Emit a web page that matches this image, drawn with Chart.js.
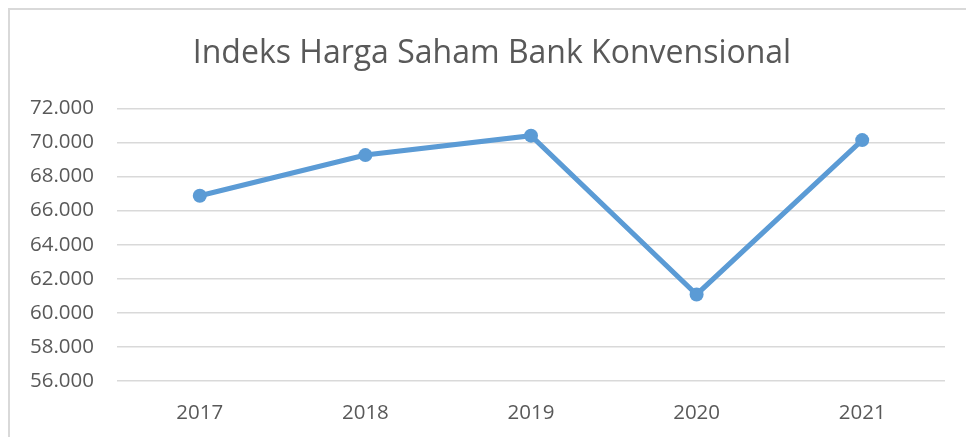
<!DOCTYPE html>
<html>
<head>
<meta charset="utf-8">
<script src="https://cdn.jsdelivr.net/npm/chart.js@4/dist/chart.umd.min.js"></script>
<style>
  html, body { margin: 0; padding: 0; background: #ffffff; overflow: hidden; }
  #frame { position: absolute; left: 8px; top: 8px; width: 980px; height: 450px;
           border-left: 2px solid #d9d9d9; border-top: 2px solid #d9d9d9; }
  #wrap { position: absolute; left: 0; top: 0; width: 966px; height: 437px; }
</style>
</head>
<body>
<div id="frame"></div>
<div id="wrap"><canvas id="c" width="966" height="437"></canvas></div>
<script>
const titleText = 'Indeks Harga Saham Bank Konvensional';
const categories = ['2017', '2018', '2019', '2020', '2021'];
const indexValues = [66870, 69260, 70400, 61080, 70140];
const yTicks = [56000, 58000, 60000, 62000, 64000, 66000, 68000, 70000, 72000];

const textColor = '#595959';
const fontFamily = '"Open Sans", "DejaVu Sans", sans-serif';

function fmt(v) {
  return String(v).replace(/\B(?=(\d{3})+(?!\d))/g, '.');
}

// Center the title over the chart frame (as in the original), not over the layout box
const centerTitle = {
  id: 'centerTitle',
  afterLayout(chart) {
    if (chart.titleBlock) {
      chart.titleBlock.left = 18;
      chart.titleBlock.right = 966;
    }
  }
};

new Chart(document.getElementById('c'), {
  type: 'line',
  data: {
    labels: categories,
    datasets: [{
      data: indexValues,
      borderColor: '#5B9BD5',
      backgroundColor: '#5B9BD5',
      borderWidth: 5,
      pointRadius: 7,
      pointHoverRadius: 7,
      pointBorderWidth: 0,
      tension: 0,
      fill: false
    }]
  },
  options: {
    responsive: false,
    animation: false,
    layout: { padding: { left: 0, right: 21, top: 0, bottom: 0 } },
    plugins: {
      legend: { display: false },
      tooltip: { enabled: false },
      title: {
        display: true,
        text: titleText,
        color: textColor,
        font: { family: fontFamily, size: 32, weight: 'normal', lineHeight: 1.2 },
        padding: { top: 35, bottom: 35 }
      }
    },
    scales: {
      x: {
        offset: true,
        grid: { display: false },
        border: { display: false },
        ticks: { color: textColor, font: { family: fontFamily, size: 20.5 }, padding: 12, maxRotation: 0 },
        afterFit: (s) => { s.height = 56; }
      },
      y: {
        min: 56000,
        max: 72000,
        afterBuildTicks: (s) => { s.ticks = yTicks.map(v => ({ value: v })); },
        grid: { color: '#d9d9d9', lineWidth: 1.5, drawTicks: false },
        border: { display: false },
        ticks: { color: textColor, font: { family: fontFamily, size: 20.5 }, padding: 23, callback: (v) => fmt(v) },
        afterFit: (s) => { s.width = 117; }
      }
    }
  },
  plugins: [centerTitle]
});
</script>
</body>
</html>
